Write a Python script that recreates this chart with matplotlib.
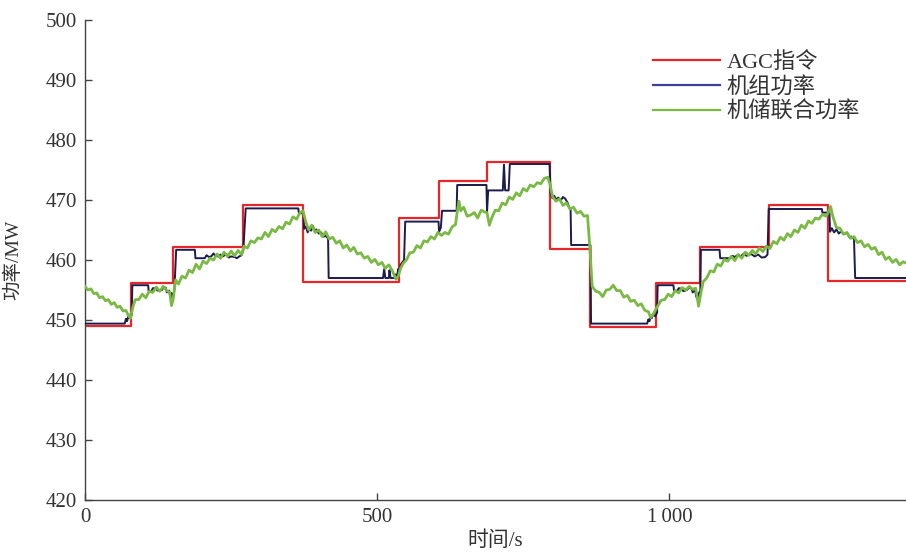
import numpy as np
import matplotlib
matplotlib.use("Agg")
import matplotlib.pyplot as plt

plt.rcParams['font.family'] = ['Liberation Serif', 'Noto Sans CJK SC']

# AGC command (step, value holds until next time)
agc_t = [0, 79, 150, 271, 373, 537, 606, 688, 795, 865, 978, 1052, 1170, 1272, 1405]
agc_v = [449.0, 456.1, 462.1, 469.2, 456.4, 467.0, 473.1, 476.3, 461.9, 448.9,
         456.1, 462.1, 469.2, 456.5, 456.5]

# unit power
unit_t = [0, 68, 70, 72, 74, 76, 78, 80, 81, 108, 109, 114, 116, 122, 124, 132, 134, 138,
          140, 144, 146, 148, 150, 152, 153, 156, 188, 189, 205, 208, 212, 216, 220, 223,
          228, 232, 236, 242, 246, 250, 256, 260, 264, 268, 271, 275, 365, 366, 374, 375,
          378, 381, 384, 387, 390, 393, 396, 400, 404, 408, 412, 416, 417, 510, 512, 514,
          520, 521, 523, 530, 532, 534, 536, 538, 540, 543, 546, 548, 605, 606, 609, 611,
          636, 637, 687, 688, 690, 715, 717, 719, 725, 727, 795, 797, 800, 803, 806, 810,
          814, 818, 822, 826, 829, 831, 832, 865, 866, 962, 964, 966, 968, 970, 972, 976,
          979, 980, 1007, 1008, 1014, 1016, 1022, 1024, 1030, 1034, 1038, 1040, 1044, 1046,
          1049, 1051, 1053, 1054, 1086, 1087, 1104, 1108, 1112, 1118, 1122, 1128, 1132,
          1140, 1146, 1152, 1158, 1164, 1168, 1170, 1261, 1262, 1274, 1275, 1278, 1282,
          1286, 1290, 1294, 1298, 1304, 1308, 1312, 1316, 1318, 1405]
unit_v = [449.4, 449.4, 450.2, 449.8, 450.6, 450.3, 451.0, 450.8, 455.8, 455.8, 454.8,
          454.8, 455.3, 455.3, 454.9, 455.0, 455.4, 455.4, 454.6, 454.9, 453.8, 454.5,
          453.2, 454.6, 455.0, 461.7, 461.7, 460.3, 460.3, 460.8, 460.5, 460.6, 461.1,
          460.7, 460.6, 460.9, 460.6, 461.0, 460.4, 460.6, 460.5, 460.3, 460.6, 460.8,
          461.7, 468.6, 468.6, 467.8, 467.8, 465.2, 465.6, 464.6, 465.2, 464.9, 465.7,
          464.8, 465.1, 464.4, 464.6, 463.9, 464.0, 463.6, 457.0, 457.0, 458.5, 457.0,
          457.0, 458.3, 457.0, 457.0, 457.6, 457.2, 458.5, 458.0, 459.2, 459.6, 460.0,
          466.4, 466.4, 464.7, 465.4, 468.2, 468.2, 472.5, 472.5, 468.0, 471.6, 471.6,
          475.9, 471.6, 471.6, 476.0, 476.0, 471.0, 470.3, 470.7, 470.1, 470.4, 469.9,
          470.5, 470.2, 469.5, 468.7, 468.6, 462.5, 462.5, 449.4, 449.4, 450.1, 449.8,
          450.6, 450.3, 451.0, 450.6, 451.2, 455.8, 455.8, 454.9, 454.9, 455.3, 455.2,
          454.8, 455.0, 455.4, 455.2, 454.6, 455.0, 453.9, 453.4, 454.6, 454.8, 461.7,
          461.7, 460.3, 460.3, 460.7, 460.5, 460.9, 460.6, 461.1, 460.7, 461.0, 460.6,
          460.9, 460.4, 460.5, 460.9, 468.5, 468.5, 467.9, 467.9, 464.7, 465.3, 464.6,
          465.1, 464.4, 464.8, 464.3, 464.5, 463.8, 463.9, 463.5, 457.0, 457.0]

# unit + storage combined power
comb_t = [0, 5, 10, 15, 20, 25, 30, 35, 40, 45, 50, 55, 60, 65, 70, 75, 78,
          82, 86, 92, 98, 104, 110, 116, 122, 128, 134, 140, 145, 148, 151,
          155, 160, 166, 172, 178, 184, 190, 196, 202, 208, 214, 220, 226, 232, 238, 244,
          250, 256, 262, 268,
          272, 278, 284, 290, 296, 302, 308, 314, 320, 326, 332, 338, 344, 350, 356, 362,
          368, 373,
          378, 383, 388, 394, 400, 406, 412, 418, 424, 430, 436, 442, 448, 454, 460, 466,
          472, 478, 484, 490, 496, 502, 508, 514, 520, 526, 532,
          536, 540, 545, 550, 556, 562, 568, 574, 580, 586, 592, 598, 604, 610, 616, 622,
          628, 634,
          637, 640, 643, 648, 654, 660, 666, 672, 678, 684, 688,
          692, 696, 702, 708, 714, 720, 726, 732, 738, 744, 750, 756, 762, 768, 774, 780,
          786, 792,
          796, 800, 806, 812, 818, 824, 830, 836, 842, 848, 854, 860, 864,
          868, 874, 880, 886, 892, 898, 904, 910, 916, 922, 928, 934, 940, 946, 952, 958,
          964, 968, 972, 976, 980, 986, 992, 998, 1004, 1010, 1016, 1022, 1028, 1034,
          1040, 1045,
          1048, 1050, 1054,
          1058, 1064, 1070, 1076, 1082, 1088, 1094, 1100, 1106, 1112, 1118, 1124, 1130,
          1136, 1142, 1148, 1154, 1160, 1166, 1172, 1178, 1184, 1190, 1196, 1202, 1208,
          1214, 1220, 1226, 1232, 1238, 1244, 1250, 1256, 1262, 1268, 1272,
          1276, 1280, 1286, 1292, 1298, 1304, 1310, 1316, 1322, 1328, 1334, 1340, 1346,
          1352, 1358, 1364, 1370, 1376, 1382, 1388, 1394, 1400, 1405]
comb_v = [455.6, 455.0, 455.2, 454.4, 454.5, 453.7, 453.9, 453.2, 453.4, 452.6, 452.9,
          452.1, 452.3, 451.5, 451.6, 450.6, 450.3,
          452.2, 453.4, 453.4, 454.3, 453.7, 454.8, 454.6, 455.5, 454.8, 455.6, 454.9,
          454.6, 452.4, 453.5,
          456.7, 456.0, 457.3, 457.0, 458.3, 457.9, 459.3, 458.5, 459.8, 459.4, 460.3,
          460.0, 461.0, 460.3, 461.3, 460.6, 461.5, 460.7, 461.6, 460.9,
          462.3, 462.0, 463.2, 462.9, 463.7, 463.5, 464.6, 463.9, 465.1, 464.7, 465.6,
          465.2, 466.3, 466.0, 467.2, 466.8, 467.9, 468.2,
          466.3, 465.0, 465.8, 464.6, 465.0, 463.9, 464.7, 463.5, 463.8, 462.8, 463.2,
          462.0, 462.5, 461.5, 462.1, 461.0, 461.2, 460.3, 460.6, 459.6, 460.1, 459.2,
          459.6, 458.6, 459.2, 458.2, 456.8,
          457.3, 458.6, 459.5, 460.0, 461.2, 461.3, 462.4, 462.0, 463.2, 463.0, 463.9,
          463.5, 464.6, 464.1, 464.6, 464.3, 465.5, 465.9,
          468.0, 469.8, 468.2, 468.8, 467.3, 467.5, 467.9, 467.0, 468.3, 468.0, 467.9,
          465.8, 467.0, 468.3, 468.2, 469.5, 469.2, 470.5, 470.1, 471.2, 470.7, 471.9,
          471.5, 472.5, 472.2, 472.9, 472.7, 473.6, 473.8,
          472.5, 470.6, 469.8, 470.2, 469.1, 469.5, 468.5, 468.8, 467.8, 468.1, 467.3,
          467.4, 462.0,
          455.6, 454.8, 454.6, 453.9, 455.0, 455.1, 455.8, 454.9, 454.9, 453.8, 454.1,
          453.1, 453.3, 452.4, 452.7, 451.6, 451.4, 450.4, 450.9, 451.6, 452.3, 453.3,
          453.4, 454.3, 453.9, 454.9, 454.5, 455.4, 455.0, 455.6, 455.1, 455.3,
          453.6, 452.3, 454.5,
          456.4, 457.0, 458.2, 458.0, 459.3, 459.0, 460.1, 459.8, 460.6, 459.9, 460.9,
          460.3, 461.3, 460.8, 461.6, 461.0, 462.0, 461.4, 462.3, 461.9, 463.1, 462.7,
          463.8, 463.3, 464.4, 463.9, 465.0, 464.6, 465.8, 465.3, 466.5, 466.1, 467.0,
          466.8, 467.6, 467.3, 467.9,
          468.9, 467.2, 465.4, 465.3, 464.3, 464.6, 463.6, 463.9, 462.9, 463.2, 462.2,
          462.6, 461.8, 462.1, 460.9, 461.3, 460.1, 460.5, 459.6, 460.1, 459.2, 459.7,
          459.5]

fig = plt.figure(figsize=(9.06, 5.52), dpi=100)
ax = fig.add_axes([85 / 906, 52 / 552, 821 / 906, 480 / 552])

ax.plot(agc_t, agc_v, drawstyle='steps-post', color='#e8262a', lw=1.6, zorder=2)
ax.plot(unit_t, unit_v, color='#1b1b4d', lw=1.4, zorder=3)
ax.plot(comb_t, comb_v, color='#7ab944', lw=2.0, zorder=4)

# legend proxies (unit line shows in blue in the key)
h_red = plt.Line2D([], [], color='#e8262a', lw=1.6)
h_blue = plt.Line2D([], [], color='#3f3f9c', lw=1.6)
h_green = plt.Line2D([], [], color='#7ab944', lw=1.6)
ax.legend([h_red, h_blue, h_green], ['AGC指令', '机组功率', '机储联合功率'],
          loc='upper left', bbox_to_anchor=(0.668, 0.975), frameon=False,
          fontsize=16, handlelength=3.0, handletextpad=0.3, labelspacing=0.18,
          labelcolor='#333333')

ax.set_xlim(0, 1405)
ax.set_ylim(420, 500)
ax.set_yticks(np.arange(420, 501, 10))
ax.set_xticks([0, 500, 1000])
ax.set_xticklabels(['0', '500', '1\u2009000'])

for s in ['top', 'right']:
    ax.spines[s].set_visible(False)
for s in ['left', 'bottom']:
    ax.spines[s].set_color('#444444')
    ax.spines[s].set_linewidth(1.0)
ax.tick_params(direction='in', length=5, width=1.0, color='#444444',
               labelsize=15, labelcolor='#333333')
ax.tick_params(axis='y', pad=5.5)
ax.tick_params(axis='x', pad=6)

ax.set_xlabel('时间/s', fontsize=15, color='#333333')
ax.set_ylabel('功率/MW', fontsize=14, color='#333333')
ax.xaxis.set_label_coords(0.5, -0.065)
ax.yaxis.set_label_coords(-0.077, 0.5)

fig.savefig('out.png', dpi=100)
